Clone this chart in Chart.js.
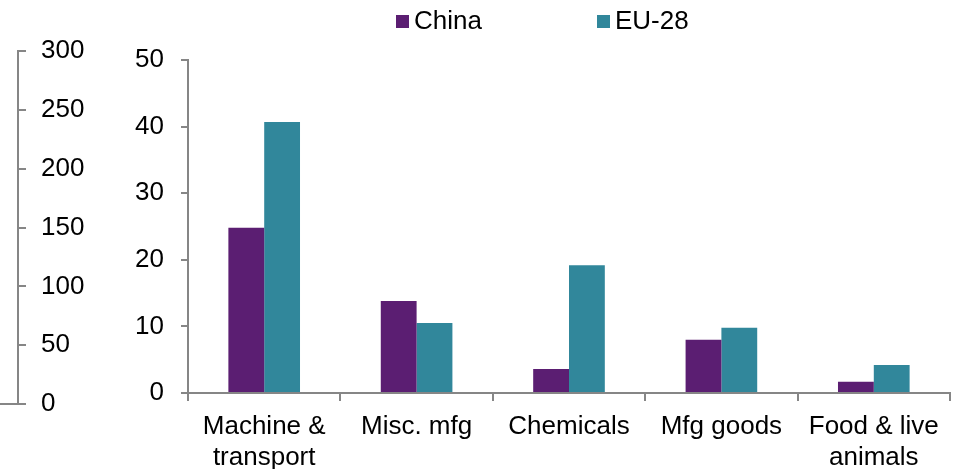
<!DOCTYPE html>
<html>
<head>
<meta charset="utf-8">
<script src="https://cdn.jsdelivr.net/npm/chart.js@4.4.1/dist/chart.umd.min.js"></script>
<style>
  html, body { margin: 0; padding: 0; background: #fff; }
  #wrap { position: relative; width: 961px; height: 469px; font-family: "Liberation Sans", Arial, sans-serif; }
  #main { position: absolute; left: 0; top: 0; }
  #outer { position: absolute; left: 0; top: 0; pointer-events: none; }
  .leg { position: absolute; top: 6px; font-size: 26px; color: #000; line-height: 28px; }
  .leg i { display: inline-block; width: 13px; height: 13px; margin-right: 5px; vertical-align: 1px; }
</style>
</head>
<body>
<div id="wrap">
  <canvas id="main" width="961" height="469"></canvas>
  <canvas id="outer" width="110" height="469"></canvas>
  <div class="leg" style="left:396px"><i style="background:#5B1E72"></i>China</div>
  <div class="leg" style="left:597px"><i style="background:#31879B"></i>EU-28</div>
</div>
<script>
const categories = [['Machine &', 'transport'], 'Misc. mfg', 'Chemicals', 'Mfg goods', ['Food & live', 'animals']];
const china = [24.8, 13.8, 3.6, 8.0, 1.7];
const eu28 = [40.7, 10.5, 19.2, 9.8, 4.2];
const innerTicks = [0, 50, 10];   // min, max, step
const outerTicks = [0, 300, 50];

(() => {
    const gray = '#868686';
    const font = { family: '"Liberation Sans", Arial, sans-serif', size: 26 };

    // main bar chart
    new Chart(document.getElementById('main'), {
        type: 'bar',
        data: {
            labels: categories,
            datasets: [
                { label: 'China', data: china, backgroundColor: '#5B1E72' },
                { label: 'EU-28', data: eu28, backgroundColor: '#31879B' }
            ]
        },
        options: {
            responsive: false,
            animation: false,
            layout: { padding: { top: 60, right: 11, left: 0, bottom: 0 } },
            datasets: { bar: { categoryPercentage: 0.47, barPercentage: 1 } },
            plugins: { legend: { display: false }, tooltip: { enabled: false } },
            scales: {
                x: {
                    grid: { offset: true, drawOnChartArea: false, drawTicks: true, tickLength: 8, color: gray, lineWidth: 2 },
                    border: { display: true, color: gray, width: 2 },
                    ticks: { color: '#000', font: { ...font, lineHeight: 1.2 }, padding: 10, maxRotation: 0, autoSkip: false },
                    afterFit: s => { s.height = 76; }
                },
                y: {
                    min: innerTicks[0], max: innerTicks[1],
                    grid: { drawOnChartArea: false, drawTicks: true, tickLength: 7, color: gray, lineWidth: 2 },
                    border: { display: true, color: gray, width: 2 },
                    ticks: { stepSize: innerTicks[2], color: '#000', font: font, padding: 17 },
                    afterFit: s => { s.width = 188; }
                }
            }
        }
    });

    // outer secondary axis (0-300)
    new Chart(document.getElementById('outer'), {
        type: 'bar',
        data: { labels: [''], datasets: [] },
        options: {
            responsive: false,
            animation: false,
            layout: { padding: { top: 51, right: 0, left: 0, bottom: 0 } },
            plugins: { legend: { display: false }, tooltip: { enabled: false } },
            scales: {
                x: {
                    display: true,
                    grid: { display: false },
                    border: { display: true, color: gray, width: 2 },
                    ticks: { display: false },
                    afterFit: s => { s.height = 65; }
                },
                y: {
                    display: true,
                    position: 'right',
                    min: outerTicks[0], max: outerTicks[1],
                    grid: { drawOnChartArea: false, drawTicks: true, tickLength: 8, color: gray, lineWidth: 2 },
                    border: { display: true, color: gray, width: 2 },
                    ticks: { stepSize: outerTicks[2], color: '#000', font: font, padding: 15 },
                    afterFit: s => { s.width = 92; }
                }
            }
        }
    });
})();
</script>
</body>
</html>
